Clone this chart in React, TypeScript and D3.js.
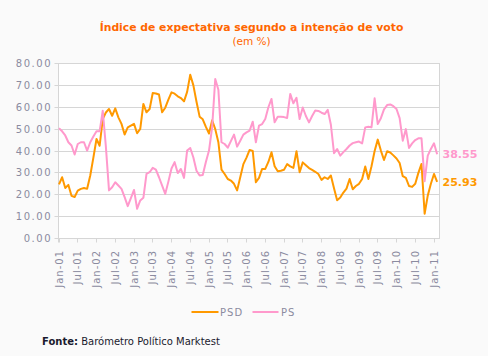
import React from 'react';
import * as d3 from 'd3';

// Monthly observations, Jan-2001 .. Feb-2011 (index 0 = Jan-01)
const seriesNames = ['PSD', 'PS'];
const tickLabels = [
  'Jan-01', 'Jul-01', 'Jan-02', 'Jul-02', 'Jan-03', 'Jul-03', 'Jan-04', 'Jul-04',
  'Jan-05', 'Jul-05', 'Jan-06', 'Jul-06', 'Jan-07', 'Jul-07', 'Jan-08', 'Jul-08',
  'Jan-09', 'Jul-09', 'Jan-10', 'Jul-10', 'Jan-11',
];
const yTicks = [0, 10, 20, 30, 40, 50, 60, 70, 80];

const psd = [
  24.7, 28, 23.1, 24.5, 19.5, 19, 21.9, 22.7, 23.1, 22.7, 28.8, 37,
  45.5, 42.4, 54.6, 57.6, 59.2, 56.1, 59.5, 55.4, 52.4, 47.5, 50.8, 51.6,
  52.4, 48.1, 50.1, 61.5, 57.7, 59.2, 66.5, 66.3, 65.8, 57.7, 59.8, 63.5,
  66.8, 66.2, 65, 64.2, 62.7, 67, 74.9, 70, 62.5, 55.7, 54.5, 51,
  48, 54, 50, 44, 31.5, 29.5, 27.2, 26.5, 25, 22, 28, 34,
  37, 40.5, 40, 25.7, 27.7, 31.8, 31.8, 35, 39.4, 33, 30.7, 31,
  31.4, 34, 33, 32.3, 39.9, 30.3, 34.8, 33.5, 32.2, 31.4, 30.5, 29.5,
  26.8, 28, 27.2, 28.8, 23, 17.5, 18.7, 21, 22.8, 27.2, 22.5, 24,
  25, 27.2, 32.9, 27.2, 33, 40, 45.2, 40.2, 35.9, 39.9, 39.3, 38,
  36.6, 34.5, 28.5, 27.7, 24, 23.6, 25, 30, 34.1, 11.3, 19.6, 25,
  29.5, 25.93,
];

const ps = [
  50.4, 49, 47.1, 44, 42.5, 38.4, 43.2, 44, 44, 40.2, 44, 46.6,
  49, 49, 58.4, 42, 22, 23.4, 25.7, 24.2, 22.7, 18.9, 14.8, 18.5,
  22.2, 13.6, 17.4, 18.6, 29.5, 30.3, 32.3, 31.5, 28, 24.2, 20.4, 26,
  32, 34.9, 29.9, 31.8, 27.7, 40.2, 41.4, 37, 31, 28.8, 29, 35,
  40.2, 50.8, 72.9, 68, 44, 43.2, 41.5, 44.5, 47.5, 42, 44.7, 47.5,
  48.5, 49.3, 53.4, 44, 51.6, 52.3, 54.6, 60, 63.8, 53.1, 55.7, 55.7,
  55.5, 55.1, 66.1, 61.8, 64.3, 54.6, 59.9, 56, 53.1, 56, 58.5, 58.3,
  57.5, 56.9, 58.8, 52, 39, 40.9, 37.9, 39.5, 40.9, 42.5, 43.6, 44,
  44.3, 43.5, 50.8, 51.1, 50.8, 64.1, 52.3, 55, 59, 61, 61.3, 60.5,
  59.2, 55, 44.7, 50, 41.4, 43.5, 45, 45.8, 45.8, 26.2, 37.9, 40.9,
  43.5, 38.55,
];

const colors = ['#ff9900', '#ff99cc'];
const FONT = 'DejaVu Sans, Verdana, sans-serif';
const AXIS_TEXT = '#8b8ba0';

export default function App() {
  const W = 488;
  const H = 356;
  const plotLeft = 58.5;
  const plotRight = 439.5;
  const plotTop = 63.5;
  const plotBottom = 238.5;

  const x = d3.scaleLinear().domain([0, 120]).range([59, 434]);
  const y = d3.scaleLinear().domain([0, 80]).range([plotBottom, plotTop]);
  const line = d3
    .line<number>()
    .x((_, i) => x(i))
    .y((d) => y(d));

  const series = [psd, ps];
  const crisp = (v: number) => Math.round(v - 0.5) + 0.5;

  return (
    <svg
      width={W}
      height={H}
      style={{ position: 'absolute', left: 0, top: 0, background: '#fafafa' }}
      fontFamily={FONT}
    >
      <rect x={0} y={0} width={W} height={H} fill="#fafafa" />
      {/* Title */}
      <text x={251.5} y={30.5} textAnchor="middle" fontSize={10.8} fontWeight="bold" fill="#ff6600">
        Índice de expectativa segundo a intenção de voto
      </text>
      <text x={251.5} y={44.5} textAnchor="middle" fontSize={10.5} fill="#ff6600">
        (em %)
      </text>

      {/* Plot area */}
      <rect
        x={plotLeft}
        y={plotTop}
        width={plotRight - plotLeft}
        height={plotBottom - plotTop}
        fill="#ffffff"
        stroke="#d6d6d6"
        strokeWidth={1}
      />
      {yTicks.map((t) => (
        <g key={t}>
          <line
            x1={54.5}
            x2={plotRight}
            y1={crisp(y(t))}
            y2={crisp(y(t))}
            stroke="#d6d6d6"
            strokeWidth={1}
          />
          <text
            x={52}
            y={y(t)}
            dy="0.35em"
            textAnchor="end"
            fontSize={10}
            letterSpacing={1.5}
            fill={AXIS_TEXT}
          >
            {t.toFixed(2)}
          </text>
        </g>
      ))}
      <line x1={plotLeft} x2={plotLeft} y1={plotTop} y2={plotBottom + 4} stroke="#d6d6d6" />
      {tickLabels.map((lab, k) => {
        const tx = crisp(x(k * 6));
        return (
          <g key={lab}>
            <line x1={tx} x2={tx} y1={plotBottom} y2={plotBottom + 4} stroke="#d6d6d6" />
            <text
              transform={`translate(${tx},250) rotate(-90)`}
              dy="0.35em"
              textAnchor="end"
              fontSize={10}
              letterSpacing={1}
              fill={AXIS_TEXT}
            >
              {lab}
            </text>
          </g>
        );
      })}

      {/* Lines */}
      {series.map((s, si) => (
        <path
          key={seriesNames[si]}
          d={line(s) || ''}
          fill="none"
          stroke={colors[si]}
          strokeWidth={2}
          strokeLinejoin="round"
        />
      ))}

      {/* End labels */}
      {series.map((s, si) => (
        <text
          key={'lab' + si}
          x={442.5}
          y={y(s[s.length - 1])}
          dy="0.35em"
          fontSize={11}
          fontWeight="bold"
          fill={colors[si]}
        >
          {s[s.length - 1].toFixed(2)}
        </text>
      ))}

      {/* Legend */}
      <line x1={191.5} x2={218.5} y1={312} y2={312} stroke={colors[0]} strokeWidth={2} />
      <text x={220} y={315.5} fontSize={10} letterSpacing={1} fill={AXIS_TEXT}>
        {seriesNames[0]}
      </text>
      <line x1={252.5} x2={278.5} y1={312} y2={312} stroke={colors[1]} strokeWidth={2} />
      <text x={281} y={315.5} fontSize={10} letterSpacing={1} fill={AXIS_TEXT}>
        {seriesNames[1]}
      </text>

      {/* Source */}
      <text x={42} y={345} fontSize={10} fill="#1a1a2e">
        <tspan fontWeight="bold">Fonte:</tspan> Barómetro Político Marktest
      </text>
    </svg>
  );
}
